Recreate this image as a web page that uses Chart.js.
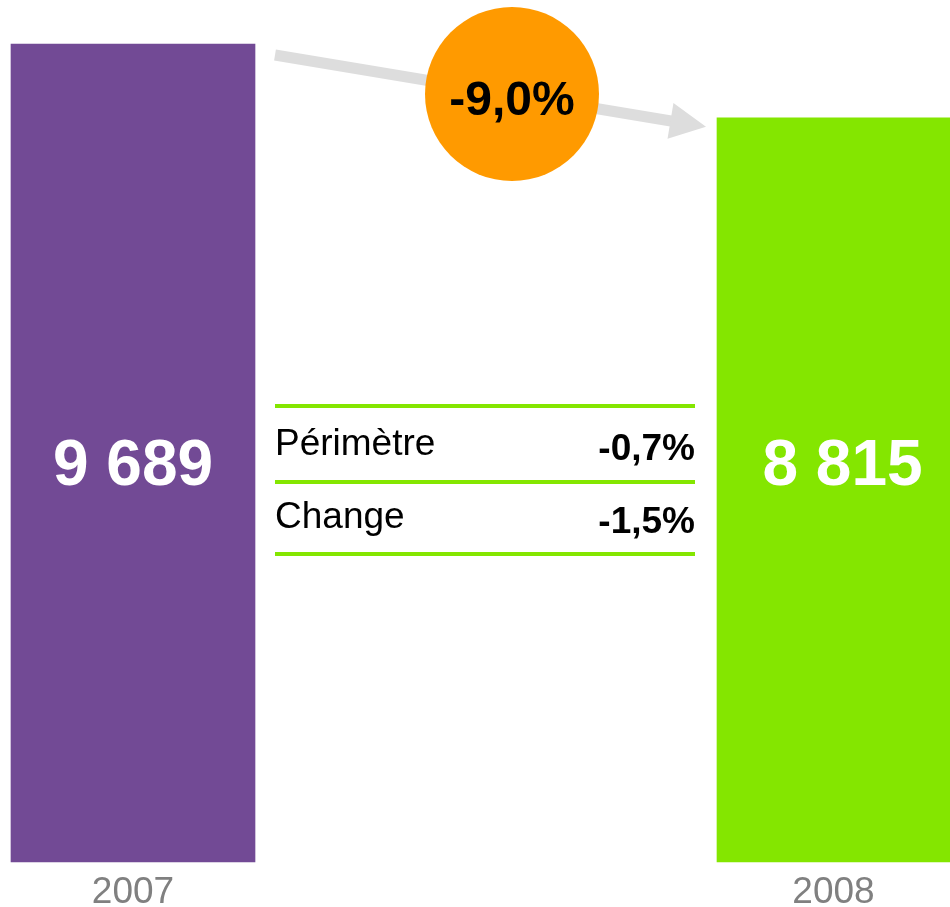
<!DOCTYPE html>
<html>
<head>
<meta charset="utf-8">
<script src="https://cdn.jsdelivr.net/npm/chart.js@4.4.1/dist/chart.umd.min.js"></script>
<style>
    body { margin: 0; background: #fff; }
    canvas { display: block; }
</style>
</head>
<body>
<canvas id="graficoCA" width="950" height="907"></canvas>
<script>
// données
const annees = ['2007', '2008'];
const valeurs = [9689, 8815];
const couleurs = ['#724A95', '#84E600'];
const epaisseurs = [244, 233];
const libellesVariation = ['Périmètre', 'Change'];
const valeursVariation = ['-0,7%', '-1,5%'];
const variationTotale = '-9,0%';

function formatMilliers(v) {
    return String(v).replace(/\B(?=(\d{3})+(?!\d))/g, ' ');
}

// un jeu de données par barre pour pouvoir changer couleur et largeur
const jeux = valeurs.map(function (v, i) {
    return {
        label: annees[i],
        data: valeurs.map(function (w, j) { return j === i ? w : null; }),
        backgroundColor: couleurs[i],
        barThickness: epaisseurs[i],
        grouped: false,
        clip: false
    };
});

// texte blanc dans les barres
const pluginValeurs = {
    id: 'valeurs',
    afterDatasetsDraw: function (chart) {
        const ctx = chart.ctx;
        const bas = chart.chartArea.bottom;
        ctx.save();
        ctx.fillStyle = '#fff';
        ctx.font = 'bold 64px "Liberation Sans", Arial, sans-serif';
        ctx.textAlign = 'center';
        ctx.textBaseline = 'middle';
        jeux.forEach(function (ds, i) {
            const el = chart.getDatasetMeta(i).data[i];
            ctx.fillText(formatMilliers(valeurs[i]), el.x + (i === 1 ? 9 : 0), bas - 395);
        });
        ctx.restore();
    }
};

// flèche, pastille et petit tableau au milieu
const pluginVariation = {
    id: 'variation',
    afterDraw: function (chart) {
        const ctx = chart.ctx;
        const b1 = chart.getDatasetMeta(0).data[0];
        const b2 = chart.getDatasetMeta(1).data[1];
        const g = b1.x + b1.width / 2 + 20;
        const d = b2.x - b2.width / 2 - 22;

        // flèche grise
        const x0 = g, y0 = b1.y + 11;
        const x1 = b2.x - b2.width / 2 - 11, y1 = b2.y + 9;
        const lg = Math.hypot(x1 - x0, y1 - y0);
        const ux = (x1 - x0) / lg, uy = (y1 - y0) / lg;
        const tete = 36, demi = 18;
        const bx = x1 - ux * tete, by = y1 - uy * tete;
        ctx.save();
        ctx.strokeStyle = '#DDDDDD';
        ctx.fillStyle = '#DDDDDD';
        ctx.lineWidth = 11;
        ctx.beginPath();
        ctx.moveTo(x0, y0);
        ctx.lineTo(bx + ux * 2, by + uy * 2);
        ctx.stroke();
        ctx.beginPath();
        ctx.moveTo(x1, y1);
        ctx.lineTo(bx - uy * demi, by + ux * demi);
        ctx.lineTo(bx + uy * demi, by - ux * demi);
        ctx.closePath();
        ctx.fill();

        // pastille orange
        const cx = (g + d) / 2 + 27;
        const cy = 94;
        ctx.fillStyle = '#FF9A00';
        ctx.beginPath();
        ctx.arc(cx, cy, 87, 0, Math.PI * 2);
        ctx.fill();
        ctx.fillStyle = '#000';
        ctx.font = 'bold 48px "Liberation Sans", Arial, sans-serif';
        ctx.textAlign = 'center';
        ctx.textBaseline = 'alphabetic';
        ctx.fillText(variationTotale, cx, cy + 21);

        // tableau
        const lignes = [406, 482, 554];
        ctx.strokeStyle = '#84E600';
        ctx.lineWidth = 4;
        lignes.forEach(function (y) {
            ctx.beginPath();
            ctx.moveTo(g, y);
            ctx.lineTo(d, y);
            ctx.stroke();
        });
        libellesVariation.forEach(function (lib, i) {
            const base = lignes[i] + 49 + (i === 1 ? -3 : 0);
            ctx.font = '37px "Liberation Sans", Arial, sans-serif';
            ctx.textAlign = 'left';
            ctx.fillText(lib, g, base);
            ctx.font = 'bold 37px "Liberation Sans", Arial, sans-serif';
            ctx.textAlign = 'right';
            ctx.fillText(valeursVariation[i], d, base + 5);
        });
        ctx.restore();
    }
};

new Chart(document.getElementById('graficoCA').getContext('2d'), {
    type: 'bar',
    data: {
        labels: annees,
        datasets: jeux
    },
    options: {
        responsive: false,
        animation: false,
        layout: {
            padding: { left: 133, right: 116.5, top: 17.75, bottom: 0 }
        },
        plugins: {
            legend: { display: false },
            tooltip: { enabled: false }
        },
        scales: {
            x: {
                offset: false,
                grid: { display: false, drawTicks: false },
                border: { display: false },
                ticks: {
                    color: '#808080',
                    padding: 9,
                    font: { size: 37, family: '"Liberation Sans", Arial, sans-serif' }
                },
                afterFit: function (scale) { scale.height = 45; }
            },
            y: {
                display: false,
                min: 0,
                max: 10000
            }
        }
    },
    plugins: [pluginValeurs, pluginVariation]
});
</script>
</body>
</html>
